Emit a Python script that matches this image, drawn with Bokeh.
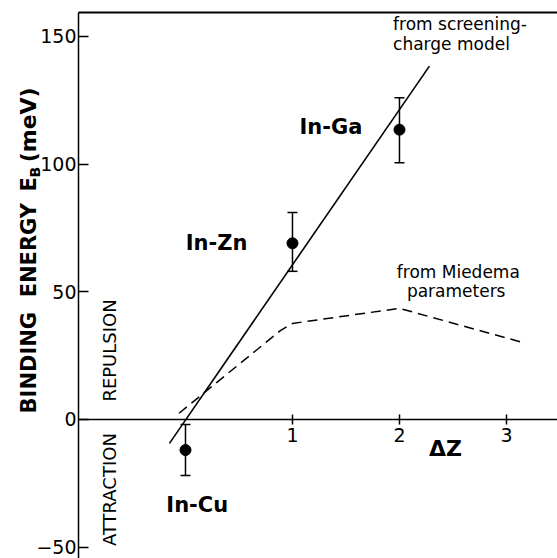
import math
from bokeh.plotting import figure
from bokeh.models import (ColumnDataSource, Whisker, TeeHead, Label, LinearAxis,
                          FixedTicker, Range1d)
from bokeh.embed import file_html
from bokeh.resources import INLINE

# ---- data ----
alloys = ["In-Cu", "In-Zn", "In-Ga"]
delta_z = [0.0, 1.0, 2.0]
energy = [-12.0, 69.0, 113.5]
err_upper = [-2.0, 81.0, 126.0]
err_lower = [-22.0, 58.0, 100.5]
label_x = [0.11, 0.29, 1.36]
label_y = [-33.7, 69.0, 114.5]

model_x = [-0.15, 2.28]          # screening-charge model line
model_y = [-9.4, 138.4]

miedema_x = [-0.06, 0.89, 1.0, 2.0, 3.18]   # Miedema parameters (dashed)
miedema_y = [2.4, 34.9, 37.6, 43.5, 29.8]

y_ticks = [-50, 0, 50, 100, 150]
x_ticks = [1, 2, 3]

X_MIN, X_MAX = -1.0, 3.477      # axis frame extent
Y_MIN, Y_MAX = -54.5, 159.4

FONT = "DejaVu Sans"

p = figure(width=557, height=558, output_backend="svg", toolbar_location=None,
           x_range=Range1d(-1.729, X_MAX), y_range=Range1d(Y_MIN, 164.1),
           min_border=0)
p.grid.visible = False
p.outline_line_color = None
p.background_fill_color = "white"
p.border_fill_color = "white"

# y axis drawn at x = -1
p.yaxis.fixed_location = X_MIN
p.yaxis.bounds = (Y_MIN, Y_MAX)
p.yaxis.ticker = FixedTicker(ticks=y_ticks)
p.yaxis.major_tick_in = 10
p.yaxis.major_tick_out = 0
p.yaxis.minor_tick_line_color = None
p.yaxis.axis_line_width = 1.5
p.yaxis.major_tick_line_width = 1.5
p.yaxis.major_label_text_font = FONT
p.yaxis.major_label_text_font_size = "19px"
p.yaxis.major_label_text_color = "black"
p.yaxis.major_label_standoff = 2

# x axis through zero
p.xaxis.fixed_location = 0
p.xaxis.bounds = (X_MIN, X_MAX)
p.xaxis.ticker = FixedTicker(ticks=x_ticks)
p.xaxis.major_tick_in = 5
p.xaxis.major_tick_out = 5
p.xaxis.minor_tick_line_color = None
p.xaxis.axis_line_width = 1.5
p.xaxis.major_tick_line_width = 1.5
p.xaxis.major_label_text_font = FONT
p.xaxis.major_label_text_font_size = "19px"
p.xaxis.major_label_text_color = "black"
p.xaxis.major_label_standoff = 4

# top frame line
top = LinearAxis(ticker=FixedTicker(ticks=[]), axis_line_width=2,
                 fixed_location=Y_MAX, bounds=(X_MIN, X_MAX),
                 major_tick_line_color=None, minor_tick_line_color=None,
                 major_label_text_color=None)
p.add_layout(top, "above")

# lines
p.line(model_x, model_y, line_color="black", line_width=1.6)
p.line(miedema_x, miedema_y, line_color="black", line_width=1.5, line_dash="10 6")

# data points with error bars
src = ColumnDataSource(dict(x=delta_z, y=energy, upper=err_upper, lower=err_lower,
                            name=alloys, lx=label_x, ly=label_y))
p.add_layout(Whisker(source=src, base="x", upper="upper", lower="lower",
                     line_color="black", line_width=1.5,
                     upper_head=TeeHead(size=10, line_width=1.5, line_color="black"),
                     lower_head=TeeHead(size=10, line_width=1.5, line_color="black")))
p.scatter("x", "y", source=src, size=11, color="black")
p.text("lx", "ly", text="name", source=src, text_font={"value": FONT},
       text_font_size="21px", text_font_style="bold", text_align="center",
       text_baseline="middle", text_color="black")

def lab(x, y, t, size, style="normal", angle=0.0, align="left", baseline="middle"):
    p.add_layout(Label(x=x, y=y, text=t, text_font=FONT, text_font_size=size,
                       text_font_style=style, angle=angle, text_align=align,
                       text_baseline=baseline, text_color="black"))

lab(2.43, -11.4, "ΔZ", "22px", "bold", align="center")
lab(1.94, 154.9, "from screening-", "17px")
lab(1.94, 147.0, "charge model", "17px")
lab(2.55, 57.6, "from Miedema", "17px", align="center")
lab(2.53, 50.2, "parameters", "17px", align="center")
lab(-0.71, 27.0, "REPULSION", "18px", angle=math.pi / 2, align="center")
lab(-0.71, -27.5, "ATTRACTION", "18px", angle=math.pi / 2, align="center")

# y axis title with subscript (words placed separately for wide spacing)
TX = -1.467
lab(TX, 2.35, "BINDING", "21px", "bold", angle=math.pi / 2)
lab(TX, 47.8, "ENERGY", "21px", "bold", angle=math.pi / 2)
lab(TX, 89.3, "E", "21px", "bold", angle=math.pi / 2)
lab(-1.41, 94.8, "B", "14px", "bold", angle=math.pi / 2)
lab(TX, 100.7, "(meV)", "22px", "bold", angle=math.pi / 2)

open("out.html", "w").write(file_html(p, INLINE))
